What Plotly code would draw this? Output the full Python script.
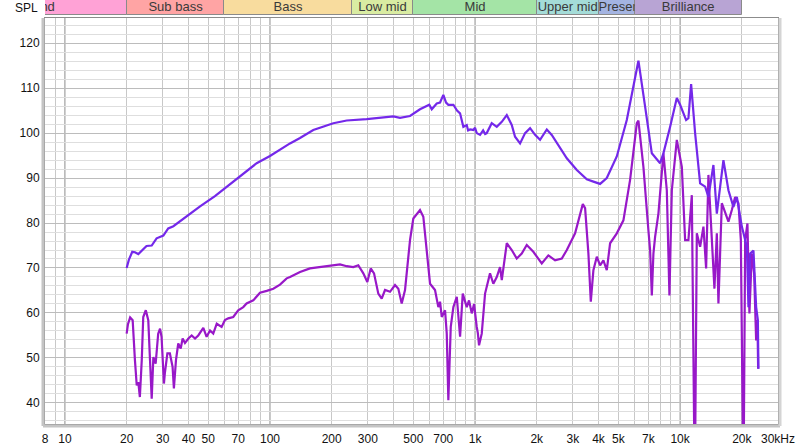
import math
import plotly.graph_objects as go

# ---------------- data ----------------
upper_freq = [20.0, 20.5, 21.3, 21.95, 22.8, 23.7, 25.0, 26.5, 28.0, 30.2, 31.9, 33.8, 38.5, 45.6, 53.9, 63.8,
              75.5, 86.1, 100, 111.9, 125.2, 140.1, 162.6, 203.6, 236.7, 296.3, 344.0, 399.6, 430.7, 481.8,
              539.0, 581.3, 598, 614.9, 650.5, 675.0, 700.6, 722.1, 741.0, 784.0, 817.0, 845.0, 860, 876.9, 911.0,
              925, 945.4, 981.1, 1000, 1019, 1058, 1095, 1120, 1140, 1206, 1276, 1350, 1428, 1510, 1567, 1658,
              1754, 1855, 1962, 2075, 2238, 2366, 2549, 2802, 3135, 3507, 3777, 4072, 4389, 4911, 5495, 5833,
              6261, 6750, 7278, 7989, 8289, 8940, 9636, 10000, 10697, 10977, 11315, 11834, 12520, 13243, 13741,
              14535, 15101, 16263, 17202, 18197, 18906, 19999, 21156, 21540, 21956, 22784, 23485, 23936, 24099]
upper_db = [70.0, 71.8, 73.6, 73.5, 73.1, 73.8, 74.9, 75.0, 76.6, 77.2, 78.8, 79.3, 81.3, 83.7, 86.0, 88.6,
            91.1, 93.3, 94.9, 96.3, 97.7, 98.9, 100.7, 102.2, 102.8, 103.1, 103.4, 103.7, 103.4, 103.8,
            105.3, 105.9, 106.3, 105.3, 106.6, 106.8, 108.5, 106.8, 106.3, 106.3, 105.0, 104.4, 103.0, 101.4, 101.8,
            100.6, 100.8, 100.7, 101.2, 100.0, 99.6, 100.6, 99.8, 100.0, 102.2, 101.4, 102.5, 104.0, 101.8, 99.2, 97.7,
            100.0, 101.1, 99.6, 98.5, 100.8, 99.6, 97.3, 94.4, 91.8, 89.7, 89.2, 88.7, 90.0, 94.8, 102.9, 109.0,
            116.1, 105.9, 95.5, 93.3, 95.5, 101.4, 107.8, 106.3, 102.9, 103.3, 110.9, 100.0, 88.8, 88.1, 85.8,
            92.9, 82.1, 94.0, 87.3, 83.6, 85.8, 79.2, 74.7, 61.3, 73.2, 73.9, 61.3, 58.4, 47.6]

lower_freq = [20.0, 20.3, 20.8, 21.4, 21.95, 22.4, 22.8, 23.2, 23.7, 24.1, 24.8, 25.5, 26.0, 26.5, 27.0, 27.7,
              28.5, 29.1, 29.6, 30.4, 30.7, 31.6, 32.5, 33.5, 34.0, 34.8, 35.7, 36.7, 37.5, 38.5, 40.0, 41.5,
              43.1, 44.7, 47.3, 49.1, 51.0, 52.9, 55.0, 58.1, 60.3, 62.6, 66.2, 70.0, 74.1, 76.9, 82.9, 89.4,
              96.4, 103.8, 111.9, 120.6, 125.2, 140.1, 156.7, 175.4, 196.2, 219.6, 236.7, 254.9, 269.6, 285.2,
              298.3, 309.9, 321.6, 337.5, 350.6, 363.9, 384.9, 407.2, 422.6, 438.9, 455.5, 481.8, 500.0, 539.0,
              559.4, 581.3, 603.3, 638.0, 650, 662.2, 675, 688.0, 714.0, 727.8, 741.0, 761.2, 784.0, 814.5, 845.3,
              870.9, 911.0, 934.7, 963.6, 988.8, 1019, 1032, 1046, 1078, 1119, 1183, 1228, 1276, 1324, 1350, 1428,
              1510, 1597, 1689, 1787, 1924, 2115, 2278, 2456, 2649, 2802, 3075, 3353, 3441, 3571, 3668, 3777, 3924,
              4072, 4226, 4389, 4556, 4911, 5290, 5702, 6150, 6261, 6622, 7004, 7140, 7278, 7410, 7551, 7838,
              8289, 8612, 8869, 9111, 9636, 10193, 10578, 10977, 11404, 11794, 12063, 12520, 12993, 13391,
              13741, 14277, 14702, 15101, 15375, 15973, 16577, 17202, 17872, 18548, 19250, 19776, 20363,
              20757, 21296, 21777, 22375, 22961, 23485, 23832, 24015]
lower_db = [55.4, 57.5, 59.0, 58.4, 49.5, 43.9, 44.6, 41.3, 49.5, 59.1, 60.6, 58.4, 49.5, 40.9, 50.2, 48.7,
            55.4, 56.5, 54.7, 44.3, 46.5, 51.0, 51.0, 48.0, 43.2, 49.5, 53.2, 52.1, 54.3, 53.3, 54.3, 55.0,
            54.3, 55.0, 56.7, 54.7, 56.1, 55.4, 57.6, 56.9, 58.4, 58.8, 59.1, 60.6, 61.3, 62.1, 62.8, 64.5,
            64.9, 65.4, 66.3, 67.7, 68.0, 69.1, 69.9, 70.2, 70.4, 70.8, 70.4, 70.2, 70.6, 68.8,
            66.9, 69.9, 68.8, 64.3, 63.2, 65.1, 64.7, 66.2, 65.4, 62.1, 65.1, 76.2, 81.0, 82.9,
            81.4, 73.2, 66.5, 65.1, 63.0, 61.3, 62.5, 59.1, 60.6, 55.4, 40.6, 56.9, 61.3, 63.6, 54.7,
            64.3, 61.3, 62.8, 59.9, 62.0, 56.9, 55.5, 52.8, 55.4, 64.3, 68.8, 66.5, 68.0, 70.2, 67.3, 75.5,
            74.0, 72.1, 73.2, 75.1, 73.6, 71.0, 72.8, 71.7, 72.1, 74.0, 77.7, 84.2, 83.3, 73.2, 62.5, 69.5, 72.5,
            70.6, 71.7, 69.5, 75.5, 77.7, 80.6, 89.6, 102.2, 102.8, 92.5, 78.4, 73.9, 63.9, 73.2, 76.9, 82.1,
            95.5, 87.3, 63.9, 87.3, 98.5, 92.5, 76.2, 76.2, 86.2, 20.0, 77.7, 74.7, 79.2, 69.9,
            90.7, 76.2, 65.4, 77.7, 62.1, 84.4, 82.1, 80.3, 82.9, 85.8, 84.4, 76.2, 20.0,
            76.2, 79.9, 59.9, 73.2, 68.8, 53.9, 58.4, 47.6]

band_names = ["Infrasound", "Sub bass", "Bass", "Low mid", "Mid", "Upper mid", "Presence", "Brilliance"]
band_lo = [2, 20, 60, 250, 500, 2000, 4000, 6000]
band_hi = [20, 60, 250, 500, 2000, 4000, 6000, 20000]
band_colors = ["#ffa2d6", "#ffa4a4", "#f8dc9e", "#d9eca2", "#a4e4a6", "#a4dcd8", "#a4b4e2", "#b8a4d4"]

x_tickvals = [8, 10, 20, 30, 40, 50, 70, 100, 200, 300, 500, 700, 1000, 2000, 3000, 4000, 5000, 7000,
              10000, 20000, 30000]
x_ticktext = ["8", "10", "20", "30", "40", "50", "70", "100", "200", "300", "500", "700", "1k", "2k", "3k",
              "4k", "5k", "7k", "10k", "20k", "30kHz"]
y_tickvals = [40, 50, 60, 70, 80, 90, 100, 110, 120]

X_MIN, X_MAX = 8, 30000
Y_MIN, Y_MAX = 35.3, 125.6

# ---------------- layout geometry ----------------
W, H = 800, 448
ML, MR, MT, MB = 45, 22, 0, 24
PW = W - ML - MR
PH = H - MT - MB  # 424
main_top = (PH - 18) / PH
band_bottom = (PH - 15) / PH

lx0, lx1 = math.log10(X_MIN) - 0.0002, math.log10(X_MAX) + 0.0002


def xpaper(f):
    return (math.log10(f) - lx0) / (lx1 - lx0)


minor_vals = []
for dec in [1, 10, 100, 1000, 10000]:
    for m in range(2, 10):
        v = m * dec
        if X_MIN < v < X_MAX:
            minor_vals.append(v)

fig = go.Figure()

# band strip
fig.add_trace(go.Bar(
    orientation="h", y=[0.5] * len(band_names), base=band_lo,
    x=[h - l for l, h in zip(band_lo, band_hi)], width=1,
    marker=dict(color=band_colors, line=dict(color="#8a8a8a", width=1)),
    xaxis="x2", yaxis="y2", hoverinfo="skip", showlegend=False))
lab_idx = [i for i, n in enumerate(band_names) if n != "Presence"]
fig.add_trace(go.Scatter(
    x=[math.sqrt(band_lo[i] * band_hi[i]) for i in lab_idx], y=[0.5] * len(lab_idx),
    mode="text", text=[band_names[i] for i in lab_idx],
    textfont=dict(size=13, color="#3a3a3a", family="Liberation Sans, Arial"),
    cliponaxis=True, xaxis="x2", yaxis="y2", hoverinfo="skip", showlegend=False))
pi = band_names.index("Presence")
fig.add_trace(go.Scatter(
    x=[band_lo[pi]], y=[0.5], mode="text", text=[band_names[pi]], textposition="middle right",
    textfont=dict(size=13, color="#3a3a3a", family="Liberation Sans, Arial"),
    cliponaxis=True, xaxis="x3", yaxis="y3", hoverinfo="skip", showlegend=False))

# curves
fig.add_trace(go.Scatter(x=lower_freq, y=lower_db, mode="lines",
                         line=dict(color="#9818c8", width=2.2), showlegend=False))
fig.add_trace(go.Scatter(x=upper_freq, y=upper_db, mode="lines",
                         line=dict(color="#7428ea", width=2.2), showlegend=False))

shapes = []
for f in [10, 100, 1000, 10000]:
    px = xpaper(f)
    shapes.append(dict(type="line", xref="paper", yref="paper", x0=px, x1=px, y0=0, y1=main_top,
                       line=dict(color="#8c8c8c", width=1), layer="below"))
dx = 2 / PW
dy = 2 / PH
shapes.append(dict(type="line", xref="paper", yref="paper", x0=-dx, x1=-dx, y0=-dy, y1=main_top,
                   line=dict(color="#c4c4c4", width=3), layer="above"))
shapes.append(dict(type="line", xref="paper", yref="paper", x0=-dx, x1=1 + dx, y0=-dy, y1=-dy,
                   line=dict(color="#c4c4c4", width=3), layer="above"))
shapes.append(dict(type="line", xref="paper", yref="paper", x0=1 + dx, x1=1 + dx, y0=-dy, y1=main_top,
                   line=dict(color="#d4d4d4", width=3), layer="above"))

fig.update_layout(
    width=W, height=H, margin=dict(l=ML, r=MR, t=MT, b=MB, autoexpand=False),
    paper_bgcolor="white", plot_bgcolor="rgba(0,0,0,0)",
    font=dict(family="Liberation Sans, Arial", size=12, color="#111"),
    bargap=0, barmode="overlay",
    shapes=shapes,
    xaxis=dict(type="log", range=[lx0, lx1], domain=[0, 1], anchor="y", automargin=False,
               tickmode="array", tickvals=x_tickvals, ticktext=x_ticktext, ticks="", ticklabelstandoff=4,
               showgrid=False, zeroline=False, showline=True, mirror=True, linecolor="#8c8c8c", linewidth=1,
               minor=dict(tickmode="array", tickvals=minor_vals, showgrid=True, gridcolor="#c8c8c8",
                          gridwidth=1, ticks=""),
               tickfont=dict(size=12, color="#111"), fixedrange=True),
    yaxis=dict(range=[Y_MIN, Y_MAX], domain=[0, main_top], anchor="x", automargin=False,
               tickmode="array", tickvals=y_tickvals, ticks="", ticklabelstandoff=2,
               showgrid=True, gridcolor="#bcbcbc", gridwidth=1, zeroline=False,
               showline=True, mirror=True, linecolor="#8c8c8c", linewidth=1,
               minor=dict(dtick=2, showgrid=True, gridcolor="#dedede", gridwidth=1, ticks=""),
               tickfont=dict(size=12, color="#111"), fixedrange=True),
    xaxis2=dict(type="log", matches="x", anchor="y2", visible=False, showgrid=False, automargin=False),
    yaxis2=dict(range=[0, 1], domain=[band_bottom, 1], anchor="x2", visible=False, showgrid=False,
                automargin=False),
    xaxis3=dict(type="log", range=[math.log10(band_lo[pi]), math.log10(band_hi[pi])],
                domain=[xpaper(band_lo[pi]), xpaper(band_hi[pi])], anchor="y3", visible=False,
                showgrid=False, automargin=False),
    yaxis3=dict(range=[0, 1], domain=[band_bottom, 1], anchor="x3", visible=False, showgrid=False,
                automargin=False),
    annotations=[dict(text="SPL", xref="paper", yref="paper", x=-5 / PW, y=(PH - 8) / PH,
                      xanchor="right", yanchor="middle", showarrow=False,
                      font=dict(size=12, color="#111"))],
)

fig.write_html("out.html", config={"displayModeBar": False},
               post_script="document.body.style.margin='0';document.body.style.overflow='hidden';")
